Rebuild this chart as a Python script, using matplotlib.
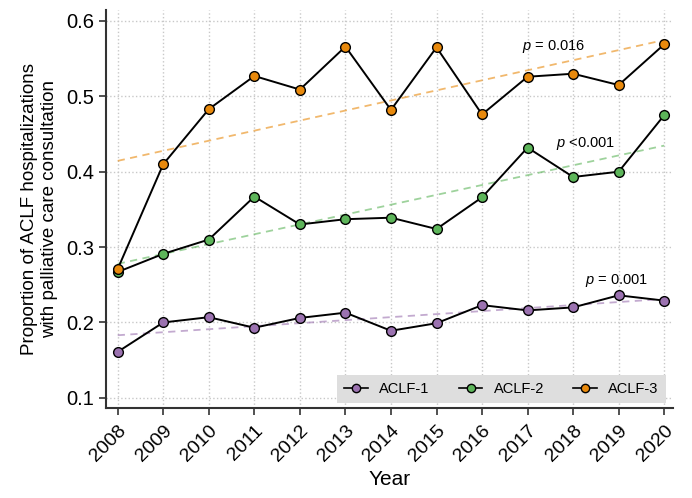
import numpy as np
import matplotlib
matplotlib.use("Agg")
import matplotlib.pyplot as plt
from matplotlib.lines import Line2D

plt.rcParams["font.family"] = ["Liberation Sans", "DejaVu Sans"]
plt.rcParams["mathtext.fontset"] = "custom"
plt.rcParams["mathtext.it"] = "Liberation Sans:italic"
plt.rcParams["mathtext.rm"] = "Liberation Sans"

years = np.arange(2008, 2021)
aclf1 = [0.161, 0.200, 0.207, 0.193, 0.206, 0.213, 0.189, 0.199, 0.223, 0.216, 0.220, 0.236, 0.229]
aclf2 = [0.267, 0.291, 0.310, 0.367, 0.330, 0.337, 0.339, 0.324, 0.366, 0.432, 0.393, 0.400, 0.475]
aclf3 = [0.271, 0.410, 0.483, 0.527, 0.509, 0.566, 0.482, 0.565, 0.476, 0.526, 0.530, 0.515, 0.569]
names = ["ACLF-1", "ACLF-2", "ACLF-3"]
colors = ["#9b72b0", "#5db55a", "#e8890c"]
pvals = ["= 0.001", "<0.001", "= 0.016"]

fig = plt.figure(figsize=(6.92, 4.98), dpi=100)
ax = fig.add_axes([0.153, 0.181, 0.820, 0.799])

series = [aclf1, aclf2, aclf3]
# trend lines first
for vals, c in zip(series, colors):
    k, b = np.polyfit(years, vals, 1)
    ax.plot(years, k * years + b, ls=(0, (4, 3)), color=c, alpha=0.6, lw=1.3, zorder=2)
for vals, c in zip(series, colors):
    ax.plot(years, vals, color="black", lw=1.4, marker="o", markersize=7,
            markerfacecolor=c, markeredgecolor="black", markeredgewidth=1.0, zorder=3)

ax.text(2018.26, 0.251, "$p$ " + pvals[0], fontsize=10.5)
ax.text(2017.63, 0.433, "$p$ " + pvals[1], fontsize=10.5)
ax.text(2016.88, 0.562, "$p$ " + pvals[2], fontsize=10.5)

ax.set_xlim(2007.74, 2020.2)
ax.set_ylim(0.0867, 0.6146)
ax.set_xticks(years)
ax.set_xticklabels([str(y) for y in years], rotation=45, ha="right", rotation_mode="anchor", fontsize=14)
ax.set_yticks([0.1, 0.2, 0.3, 0.4, 0.5, 0.6])
ax.set_yticklabels(["0.1", "0.2", "0.3", "0.4", "0.5", "0.6"], fontsize=14.5)
ax.tick_params(axis="both", direction="out", length=5, width=1.2, color="#333333")
ax.tick_params(axis="x", pad=5)
ax.grid(True, ls=":", color="#c8c8c8", lw=1.0)
ax.set_axisbelow(True)
for s in ["top", "right"]:
    ax.spines[s].set_visible(False)
for s in ["left", "bottom"]:
    ax.spines[s].set_linewidth(1.5)
    ax.spines[s].set_color("#333333")

ax.set_xlabel("Year", fontsize=15, labelpad=4)
ax.set_ylabel("Proportion of ACLF hospitalizations\nwith palliative care consultation", fontsize=13.5, labelpad=6)

handles = [Line2D([0], [0], color="black", lw=1.2, marker="o", markersize=6,
                  markerfacecolor=c, markeredgecolor="black") for c in colors]
leg = ax.legend(handles, names, loc="lower right", ncol=3, fontsize=10.5, frameon=True,
                facecolor="#dedede", edgecolor="none", fancybox=False, framealpha=1,
                handlelength=1.6, columnspacing=2.0, borderaxespad=0.3, borderpad=0.5,
                bbox_to_anchor=(0.995, 0.0))

fig.savefig("out.png", dpi=100)
